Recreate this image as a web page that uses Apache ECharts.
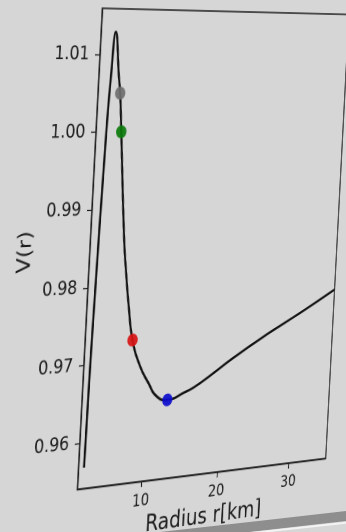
<!DOCTYPE html>
<html>
<head>
<meta charset="utf-8">
<script src="https://cdn.jsdelivr.net/npm/echarts@6/dist/echarts.min.js"></script>
<style>
  html, body { margin: 0; padding: 0; width: 346px; height: 532px; overflow: hidden; background: #d6d6d6; }
  #stage { position: relative; width: 346px; height: 532px; overflow: hidden; background: #d6d6d6; }
  #edge { position: absolute; left: 0; top: 0; }
  #chart { position: absolute; left: 0; top: 0; width: 460px; height: 600px; transform-origin: 0 0; }
</style>
</head>
<body>
<div id="stage">
  <svg id="edge" width="346" height="532">
    <polygon points="160,532 346,511 346,521 249,532" fill="#8e8e8e"/>
    <line x1="228" y1="535.5" x2="346" y2="522.8" stroke="#f3f3f3" stroke-width="2"/>
  </svg>
  <div id="chart"></div>
</div>
<script>
// Potential curve V(r) against radius r in km
const radiusKm = [2.54, 2.62, 2.75, 3.13, 3.37, 3.71, 4.38, 4.65, 5.04, 6.12, 6.59, 7.16, 7.87,
                  9.01, 10.20, 11.39, 12.81, 14.89, 17.05, 21.41, 25.89, 30.46, 35.30];
const potential = [0.9568, 0.9668, 0.9771, 0.9990, 1.0071, 1.0129, 1.0071, 1.0050, 1.0000, 0.9860, 0.9817, 0.9772, 0.9728,
                   0.9693, 0.9670, 0.9651, 0.9645, 0.9652, 0.9663, 0.9693, 0.9721, 0.9747, 0.9776];

// Highlighted points on the curve
const markerRadius = [4.65, 5.04, 7.87, 12.81];
const markerPotential = [1.005, 1.000, 0.9728, 0.9645];
const markerColors = ['#6e6e6e', '#0b7a0b', '#d61212', '#0c0cce'];

// Axis extents and tick labels
const xRange = [1.84, 35.3];
const yRange = [0.9541, 1.0159];
const xTicks = [10, 20, 30];
const yTicks = [0.96, 0.97, 0.98, 0.99, 1.00, 1.01];

// Plot rectangle inside the chart element, and where its corners sit on the page (TL, TR, BR, BL)
const plot = { left: 110, top: 24, width: 330, height: 480 };
const frame = [[102.3, 8.3], [349, 14.5], [325.7, 458.3], [77.3, 489.3]];

function squareToQuad(q) {
  const [x0, y0] = q[0], [x1, y1] = q[1], [x2, y2] = q[2], [x3, y3] = q[3];
  const sx = x0 - x1 + x2 - x3, sy = y0 - y1 + y2 - y3;
  const dx1 = x1 - x2, dx2 = x3 - x2, dy1 = y1 - y2, dy2 = y3 - y2;
  const den = dx1 * dy2 - dx2 * dy1;
  const g = (sx * dy2 - dx2 * sy) / den;
  const h = (dx1 * sy - sx * dy1) / den;
  return [
    [x1 - x0 + g * x1, x3 - x0 + h * x3, x0],
    [y1 - y0 + g * y1, y3 - y0 + h * y3, y0],
    [g, h, 1]
  ];
}
function mul(A, B) {
  const C = [[0, 0, 0], [0, 0, 0], [0, 0, 0]];
  for (let i = 0; i < 3; i++)
    for (let j = 0; j < 3; j++)
      for (let k = 0; k < 3; k++) C[i][j] += A[i][k] * B[k][j];
  return C;
}
const toUnit = [
  [1 / plot.width, 0, -plot.left / plot.width],
  [0, 1 / plot.height, -plot.top / plot.height],
  [0, 0, 1]
];
const M = mul(squareToQuad(frame), toUnit);
const el = document.getElementById('chart');
el.style.transform = 'matrix3d(' + [
  M[0][0], M[1][0], 0, M[2][0],
  M[0][1], M[1][1], 0, M[2][1],
  0, 0, 1, 0,
  M[0][2], M[1][2], 0, M[2][2]
].join(',') + ')';

const font = 'DejaVu Sans';
const ink = '#1c1c1c';
const chart = echarts.init(el, null, { renderer: 'canvas', devicePixelRatio: 2 });
chart.setOption({
  animation: false,
  backgroundColor: 'transparent',
  grid: {
    left: plot.left, top: plot.top, width: plot.width, height: plot.height,
    show: true, borderColor: ink, borderWidth: 1.4, backgroundColor: 'transparent'
  },
  xAxis: {
    type: 'value', min: xRange[0], max: xRange[1],
    name: 'Radius r[km]', nameLocation: 'middle', nameGap: 29,
    nameTextStyle: { fontFamily: font, fontSize: 24, color: ink },
    axisLine: { show: true, lineStyle: { color: ink, width: 1.4 } },
    axisTick: { show: true, inside: false, length: 6, customValues: xTicks, lineStyle: { color: ink, width: 1.2 } },
    axisLabel: { customValues: xTicks, fontFamily: font, fontSize: 17, color: ink, margin: 12 },
    splitLine: { show: false }
  },
  yAxis: {
    type: 'value', min: yRange[0], max: yRange[1],
    name: 'V(r)', nameLocation: 'middle', nameGap: 62,
    nameTextStyle: { fontFamily: font, fontSize: 22, color: ink },
    axisLine: { show: true, lineStyle: { color: ink, width: 1.4 } },
    axisTick: { show: true, inside: false, length: 6, customValues: yTicks, lineStyle: { color: ink, width: 1.2 } },
    axisLabel: { customValues: yTicks, fontFamily: font, fontSize: 19, color: ink, margin: 13,
                 formatter: v => v.toFixed(2) },
    splitLine: { show: false }
  },
  series: [
    {
      type: 'line',
      data: radiusKm.map((r, i) => [r, potential[i]]),
      smooth: 0.5,
      symbol: 'none',
      lineStyle: { color: '#111', width: 2.6 },
      z: 2
    },
    {
      type: 'scatter',
      data: markerRadius.map((r, i) => ({ value: [r, markerPotential[i]], itemStyle: { color: markerColors[i], opacity: 0.92 } })),
      symbolSize: 13,
      z: 3
    }
  ]
});
</script>
</body>
</html>
